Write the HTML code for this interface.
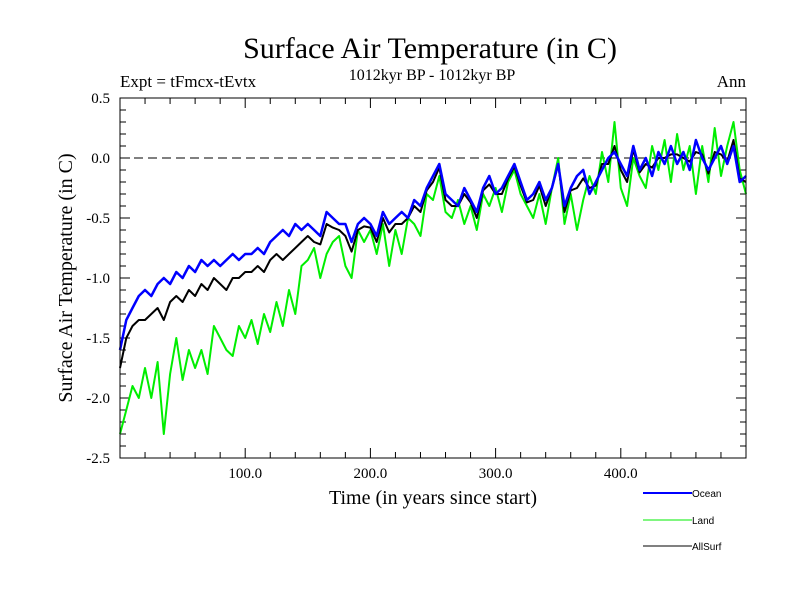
<!DOCTYPE html>
<html><head><meta charset="utf-8"><style>
body{margin:0;background:#fff;width:800px;height:600px;overflow:hidden}
svg{display:block;font-family:"Liberation Serif",serif}
</style></head><body>
<svg id="chart" width="800" height="600">
<text x="430" y="58" font-size="30" text-anchor="middle">Surface Air Temperature (in C)</text>
<text x="432" y="80" font-size="16" text-anchor="middle">1012kyr BP - 1012kyr BP</text>
<text x="120" y="87" font-size="17">Expt = tFmcx-tEvtx</text>
<text x="746" y="87" font-size="17" text-anchor="end">Ann</text>
<text x="433" y="504" font-size="20" text-anchor="middle">Time (in years since start)</text>
<text transform="translate(72,278) rotate(-90)" font-size="20" text-anchor="middle">Surface Air Temperature (in C)</text>
<g id="ticks"></g>
<g id="series"></g>
<rect x="120" y="98" width="626" height="360" fill="none" stroke="#000" stroke-width="1"/>
<g font-family="Liberation Sans, sans-serif" font-size="10">
<line x1="643" y1="493" x2="692" y2="493" stroke="#0000ff" stroke-width="2"/>
<text x="692" y="497">Ocean</text>
<line x1="643" y1="520" x2="692" y2="520" stroke="#00ee00" stroke-width="1"/>
<text x="692" y="524">Land</text>
<line x1="643" y1="546" x2="692" y2="546" stroke="#000" stroke-width="1"/>
<text x="692" y="550">AllSurf</text>
</g>
</svg>
<script>
const years=[];for(let i=0;i<=100;i++)years.push(i*5);
const ocean=[-1.6,-1.35,-1.25,-1.15,-1.1,-1.15,-1.05,-1.0,-1.05,-0.95,-1.0,-0.9,-0.95,-0.85,-0.9,-0.85,-0.9,-0.85,-0.8,-0.85,-0.8,-0.8,-0.75,-0.8,-0.7,-0.65,-0.6,-0.65,-0.55,-0.6,-0.55,-0.6,-0.65,-0.45,-0.5,-0.55,-0.55,-0.7,-0.55,-0.5,-0.55,-0.65,-0.45,-0.55,-0.5,-0.45,-0.5,-0.35,-0.4,-0.25,-0.15,-0.05,-0.3,-0.35,-0.4,-0.25,-0.35,-0.45,-0.25,-0.15,-0.3,-0.25,-0.15,-0.05,-0.2,-0.35,-0.3,-0.2,-0.35,-0.25,-0.05,-0.4,-0.25,-0.15,-0.1,-0.3,-0.2,-0.1,0.0,0.05,-0.05,-0.15,0.1,-0.1,0.0,-0.15,0.05,-0.05,0.1,-0.05,0.05,-0.1,0.15,0.0,-0.1,0.0,0.1,-0.05,0.1,-0.2,-0.15];
const land=[-2.3,-2.1,-1.9,-2.0,-1.75,-2.0,-1.7,-2.3,-1.8,-1.5,-1.85,-1.6,-1.75,-1.6,-1.8,-1.4,-1.5,-1.6,-1.65,-1.4,-1.5,-1.35,-1.55,-1.3,-1.45,-1.2,-1.4,-1.1,-1.3,-0.9,-0.85,-0.75,-1.0,-0.8,-0.7,-0.65,-0.9,-1.0,-0.6,-0.7,-0.6,-0.8,-0.55,-0.9,-0.6,-0.8,-0.5,-0.55,-0.65,-0.3,-0.35,-0.15,-0.45,-0.5,-0.35,-0.55,-0.4,-0.6,-0.3,-0.4,-0.25,-0.45,-0.2,-0.1,-0.3,-0.4,-0.5,-0.3,-0.55,-0.25,0.0,-0.55,-0.3,-0.6,-0.35,-0.15,-0.3,0.05,-0.2,0.3,-0.25,-0.4,0.0,-0.15,-0.25,0.1,-0.1,0.15,-0.2,0.2,-0.1,0.1,-0.3,0.1,-0.2,0.25,-0.15,0.1,0.3,-0.1,-0.3];
const allsurf=[-1.75,-1.5,-1.4,-1.35,-1.35,-1.3,-1.25,-1.35,-1.2,-1.15,-1.2,-1.1,-1.15,-1.05,-1.1,-1.0,-1.05,-1.1,-1.0,-1.0,-0.95,-0.95,-0.9,-0.95,-0.85,-0.8,-0.85,-0.8,-0.75,-0.7,-0.65,-0.7,-0.72,-0.55,-0.58,-0.6,-0.65,-0.78,-0.6,-0.57,-0.58,-0.7,-0.5,-0.62,-0.55,-0.55,-0.5,-0.4,-0.45,-0.27,-0.2,-0.08,-0.35,-0.4,-0.4,-0.3,-0.37,-0.5,-0.27,-0.22,-0.3,-0.3,-0.17,-0.07,-0.23,-0.37,-0.35,-0.23,-0.4,-0.25,-0.05,-0.45,-0.27,-0.25,-0.17,-0.25,-0.23,-0.05,-0.05,0.1,-0.1,-0.2,0.07,-0.12,-0.05,-0.08,0.0,0.0,0.03,0.03,0.0,-0.03,0.05,0.03,-0.13,0.05,0.03,-0.03,0.15,-0.17,-0.2];
const xTickLabels=[100,200,300,400];
const yTickLabels=[0.5,0.0,-0.5,-1.0,-1.5,-2.0,-2.5];
const X=v=>120+v*626/500;
const Y=v=>158-v*120;
const NS="http://www.w3.org/2000/svg";
const tk=document.getElementById('ticks');
function mk(tag,attrs,parent){const e=document.createElementNS(NS,tag);for(const k in attrs)e.setAttribute(k,attrs[k]);parent.appendChild(e);return e;}
for(let v=20;v<500;v+=20){const maj=v%100===0;const l=maj?10:6;
 const a=mk('line',{x1:X(v),x2:X(v),y1:458,y2:458-l,stroke:'#000'},tk);
 
 
 const b=mk('line',{x1:X(v),x2:X(v),y1:98,y2:98+l,stroke:'#000'},tk);
 
 }
xTickLabels.forEach(v=>{const t=mk('text',{x:X(v),y:478,'font-size':15,'text-anchor':'middle'},tk);t.textContent=v.toFixed(1);
 
 });
for(let i=-25;i<=5;i++){const v=i/10;const maj=i%5===0;const l=maj?10:6;
 const a=mk('line',{x1:120,x2:120+l,y1:Y(v),y2:Y(v),stroke:'#000'},tk);
 
 
 const b=mk('line',{x1:746,x2:746-l,y1:Y(v),y2:Y(v),stroke:'#000'},tk);
 
 }
yTickLabels.forEach(v=>{const t=mk('text',{x:110,y:Y(v)+5,'font-size':15,'text-anchor':'end'},tk);t.textContent=v.toFixed(1);
 
 });
const z=mk('line',{x1:120,x2:746,y1:Y(0),y2:Y(0),stroke:'#000','stroke-dasharray':'9,5'},tk);


const sg=document.getElementById('series');
function line(vals,color,w,name){const d=vals.map((v,i)=>(i?'L':'M')+X(years[i]).toFixed(1)+','+Y(v).toFixed(1)).join('');
 const p=mk('path',{d:d,fill:'none',stroke:color,'stroke-width':w,'stroke-linejoin':'round'},sg);
 
 }
line(land,'#00ee00',2,'land-line');
line(allsurf,'#000','2','allsurf-line');
line(ocean,'#0000ff',2.5,'ocean-line');
</script>
</body></html>
